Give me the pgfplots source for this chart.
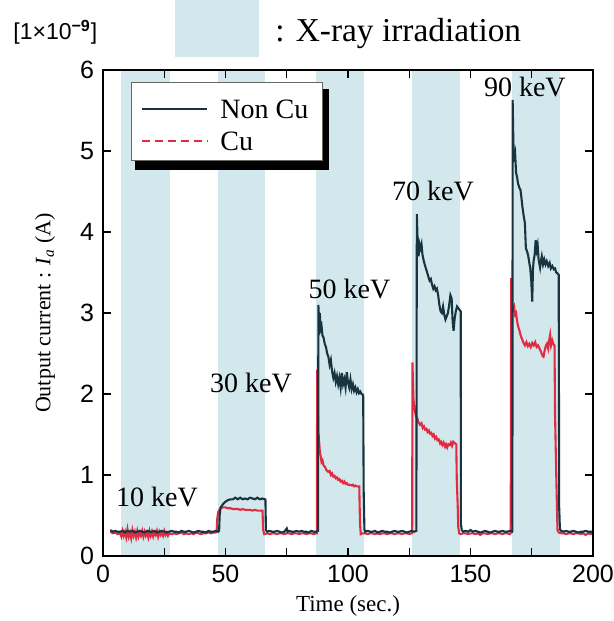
\documentclass[border=0pt]{standalone}
\usepackage{fontspec}
\setmainfont{Liberation Serif}
\newfontfamily\sansfont{Liberation Sans}
\usepackage{pgfplots}
\pgfplotsset{compat=1.18}

\definecolor{bandblue}{RGB}{211,232,236}
\definecolor{noncu}{RGB}{24,52,64}
\definecolor{cured}{RGB}{224,44,66}

\begin{document}
\begin{tikzpicture}
\useasboundingbox (-51.5pt,-32.5pt) rectangle (255.5pt,278pt);

\begin{axis}[
    at={(0,0)}, anchor=south west,
    scale only axis, width=245pt, height=243pt,
    xmin=0, xmax=200, ymin=0, ymax=6,
    xtick={0,50,...,200}, minor xtick={25,75,125,175},
    ytick={0,1,...,6},
    tick align=inside,
    major tick length=4pt, minor tick length=4pt,
    tick style={black, line width=0.6pt},
    axis line style={black, line width=0.7pt},
    axis on top,
    tick label style={font=\sansfont\fontsize{12.5}{12.5}\selectfont},
    /pgf/number format/assume math mode=true,
    xticklabel style={yshift=-1pt},
    yticklabel style={xshift=-1pt},
    xlabel={Time (sec.)},
    ylabel={Output current : \textit{I\textsubscript{a}} (A)},
    xlabel style={font=\fontsize{11.5}{12}\selectfont, at={(axis description cs:0.5,-0.103)}, anchor=center},
    ylabel style={font=\fontsize{11}{12}\selectfont, at={(axis description cs:-0.118,0.5)}, anchor=center},
]

% irradiation periods
\fill[bandblue] (axis cs:7.3,0) rectangle (axis cs:27.2,6);
\fill[bandblue] (axis cs:46.8,0) rectangle (axis cs:66.3,6);
\fill[bandblue] (axis cs:87,0) rectangle (axis cs:106.5,6);
\fill[bandblue] (axis cs:126.2,0) rectangle (axis cs:145.8,6);
\fill[bandblue] (axis cs:167,0) rectangle (axis cs:186.5,6);

% Cu
\addplot[cured, line width=1.05pt] coordinates {
(3,0.30)(4,0.28)(5,0.29)(6,0.27)(7,0.28)(7.5,0.24)(8,0.31)(8.5,0.25)(9,0.30)(9.5,0.23)
(10,0.33)(10.5,0.24)(11,0.29)(11.5,0.22)(12,0.32)(12.5,0.25)(13,0.30)(13.5,0.23)(14,0.31)(14.5,0.24)
(15,0.29)(15.5,0.25)(16,0.31)(16.5,0.24)(17,0.30)(17.5,0.25)(18,0.29)(18.5,0.23)(19,0.31)(19.5,0.25)
(20,0.30)(20.5,0.24)(21,0.29)(21.5,0.26)(22,0.31)(22.5,0.24)(23,0.30)(23.5,0.26)(24,0.29)(24.5,0.25)
(25,0.31)(25.5,0.26)(26,0.29)(26.5,0.25)(27,0.28)(28,0.27)(29,0.28)(30,0.27)(31,0.28)(32,0.29)
(33,0.27)(34,0.28)(35,0.27)(36,0.28)(37,0.27)(38,0.29)(39,0.28)(40,0.27)(41,0.28)(42,0.28)
(43,0.29)(44,0.28)(45,0.29)(46,0.29)(46.4,0.30)
(46.6,0.45)(47,0.54)(47.5,0.57)(48,0.59)(49,0.60)(50,0.60)(51,0.59)(52,0.59)(53,0.58)(54,0.58)
(55,0.58)(56,0.57)(57,0.58)(58,0.57)(59,0.57)(60,0.57)(61,0.56)(62,0.57)(63,0.56)(64,0.56)
(65.1,0.56)(65.4,0.32)(65.8,0.27)(67,0.28)(68,0.27)(69,0.28)(70,0.28)(71,0.27)(72,0.28)(73,0.28)
(74,0.27)(75,0.28)(76,0.28)(77,0.27)(78,0.28)(79,0.28)(80,0.27)(81,0.28)(82,0.28)(83,0.27)
(84,0.28)(85,0.28)(86,0.27)(87,0.28)(87.3,0.28)
(87.4,2.30)(87.7,1.80)(87.9,1.39)(88.2,1.42)(88.5,1.29)(88.9,1.22)(89.2,1.16)(89.6,1.18)(90,1.12)(90.6,1.10)
(91.2,1.06)(91.9,1.04)(92.5,1.05)(93,1.00)(93.5,1.02)(94,0.98)(94.5,0.99)(95,0.96)(95.5,0.97)(96,0.94)
(96.5,0.95)(97,0.92)(97.5,0.93)(98,0.90)(98.5,0.92)(99,0.89)(99.5,0.90)(100,0.88)(100.8,0.88)(101.5,0.87)
(102,0.88)(102.5,0.86)(103,0.87)(103.5,0.86)(104,0.86)(104.6,0.86)(104.9,0.40)(105.2,0.27)(106,0.28)(107,0.28)
(108,0.27)(109,0.28)(110,0.28)(111,0.27)(112,0.28)(113,0.27)(114,0.28)(115,0.28)(116,0.27)(117,0.28)
(118,0.28)(119,0.27)(120,0.28)(121,0.28)(122,0.27)(123,0.28)(124,0.28)(125,0.27)(126,0.28)(126.2,0.28)
(126.3,2.39)(126.7,1.95)(127,1.84)(127.4,1.78)(127.8,1.72)(128.3,1.70)(128.8,1.65)(129.4,1.62)(130,1.64)(130.5,1.58)
(131,1.60)(131.5,1.56)(132,1.57)(132.5,1.53)(133,1.55)(133.5,1.51)(134,1.52)(134.5,1.48)(135,1.50)(135.5,1.45)
(136,1.47)(136.5,1.43)(137,1.44)(137.6,1.39)(138,1.41)(138.5,1.37)(139,1.40)(139.6,1.35)(140,1.38)(140.5,1.34)
(141,1.38)(141.6,1.37)(142,1.40)(142.5,1.36)(143,1.41)(143.7,1.39)(144.2,1.38)(144.4,0.94)(144.8,0.60)(145,0.36)
(145.4,0.28)(146,0.27)(147,0.28)(148,0.28)(149,0.27)(150,0.28)(151,0.28)(152,0.27)(153,0.28)(154,0.26)
(155,0.28)(156,0.28)(157,0.27)(158,0.28)(159,0.28)(160,0.27)(161,0.28)(162,0.28)(163,0.27)(164,0.28)
(165,0.28)(166,0.27)(166.4,0.28)
(166.5,1.55)(166.6,3.43)(166.9,3.10)(167.3,3.04)(167.8,3.08)(168.2,2.98)(168.6,3.00)(169,2.90)(169.5,2.83)
(170,2.78)(170.5,2.72)(170.9,2.69)(171.5,2.64)(172.2,2.60)(172.8,2.64)(173.4,2.59)(174,2.62)(174.6,2.58)(175.2,2.63)
(175.8,2.60)(176.4,2.64)(177,2.58)(177.6,2.60)(178.2,2.56)(178.8,2.52)(179.4,2.47)(179.8,2.46)(180.3,2.54)(180.8,2.60)
(181.2,2.62)(181.7,2.56)(182.2,2.68)(182.5,2.73)(182.9,2.60)(183.4,2.66)(183.8,2.62)(184.3,2.60)(184.5,1.76)(185,1.00)
(185.5,0.32)(186,0.29)(187,0.28)(188,0.28)(189,0.27)(190,0.28)(191,0.28)(192,0.27)(193,0.28)(194,0.28)
(195,0.27)(196,0.28)(197,0.26)(198,0.28)(199,0.27)(200,0.28)
};

% Non Cu
\addplot[noncu, line width=1.05pt] coordinates {
(3,0.32)(4,0.30)(5,0.31)(6,0.30)(7,0.30)(8,0.31)(9,0.29)(10,0.31)(11,0.30)(12,0.31)
(13,0.29)(14,0.30)(15,0.31)(16,0.30)(17,0.29)(18,0.31)(19,0.30)(20,0.30)(21,0.31)(22,0.29)
(23,0.30)(24,0.31)(25,0.30)(26,0.29)(27,0.30)(28,0.31)(29,0.30)(30,0.30)(31,0.29)(32,0.31)
(33,0.30)(34,0.30)(35,0.31)(36,0.30)(37,0.29)(38,0.30)(39,0.31)(40,0.30)(41,0.30)(42,0.29)
(43,0.31)(44,0.30)(45,0.30)(46,0.31)(47,0.30)(47.4,0.31)
(47.6,0.50)(48,0.60)(48.5,0.62)(49,0.64)(50,0.67)(51,0.69)(52,0.70)(53,0.70)(54,0.72)(55,0.70)
(56,0.72)(57,0.70)(58,0.71)(59,0.70)(60,0.72)(61,0.71)(62,0.70)(63,0.72)(64,0.70)(65,0.71)
(66,0.70)(66.3,0.70)(66.5,0.32)(67,0.30)(68,0.31)(69,0.30)(70,0.30)(71,0.31)(72,0.30)(73,0.29)
(74,0.30)(75,0.34)(75.3,0.30)(76,0.31)(77,0.30)(78,0.30)(79,0.31)(80,0.30)(81,0.31)(82,0.30)
(83,0.30)(84,0.29)(85,0.31)(86,0.30)(87,0.30)(87.8,0.31)
(87.9,3.10)(88.2,2.90)(88.5,3.00)(88.8,2.80)(89.2,2.84)(89.6,2.72)(90,2.70)(90.5,2.62)(91,2.58)(91.5,2.50)
(92,2.46)(92.5,2.36)(93,2.42)(93.5,2.28)(94,2.20)(94.5,2.26)(95,2.15)(95.5,2.22)(96,2.12)(96.5,2.20)
(97,2.08)(97.5,2.26)(98,2.12)(98.5,2.18)(99,2.08)(99.5,2.27)(100,2.14)(100.5,2.08)(101,2.18)(101.5,2.06)
(102,2.12)(102.5,2.04)(103,2.08)(103.5,2.02)(104,2.06)(104.5,2.01)(105,2.03)(105.5,2.00)(106.2,1.99)(106.4,0.80)
(106.7,0.33)(107,0.30)(108,0.31)(109,0.30)(110,0.30)(111,0.31)(112,0.29)(113,0.30)(114,0.31)(115,0.30)
(116,0.30)(117,0.29)(118,0.30)(119,0.31)(120,0.30)(121,0.30)(122,0.31)(123,0.30)(124,0.29)(125,0.30)
(126,0.31)(127,0.30)(127.9,0.31)
(128.1,4.22)(128.4,3.90)(128.8,3.70)(129.2,3.85)(129.6,3.80)(130,3.85)(130.4,3.72)(130.8,3.66)(131.3,3.60)(131.8,3.55)
(132.3,3.50)(132.8,3.45)(133.3,3.40)(133.8,3.42)(134.3,3.35)(134.8,3.30)(135.3,3.33)(135.8,3.28)(136.3,3.30)(136.8,3.22)
(137.3,3.10)(137.8,3.02)(138.3,3.00)(138.8,3.08)(139.3,2.98)(139.8,2.92)(140.3,2.96)(140.8,3.00)(141.3,3.10)(141.8,3.22)
(142.3,3.18)(142.7,2.90)(143.1,2.78)(143.5,2.92)(144,3.02)(144.5,3.08)(145,3.06)(145.5,3.04)(146,3.02)(146.1,0.40)
(146.4,0.32)(147,0.30)(148,0.31)(149,0.30)(150,0.32)(151,0.30)(152,0.31)(153,0.30)(154,0.29)(155,0.30)
(156,0.31)(157,0.30)(158,0.29)(159,0.30)(160,0.31)(161,0.30)(162,0.30)(163,0.31)(164,0.30)(165,0.30)
(166,0.31)(167,0.30)(167.1,0.31)
(167.2,5.63)(167.5,5.10)(167.8,4.93)(168.2,4.98)(168.6,4.73)(169,4.68)(169.4,4.60)(169.9,4.55)(170.4,4.52)(170.8,4.42)
(171.2,4.31)(171.7,4.20)(172.2,4.11)(172.6,3.80)(173.1,3.76)(173.6,3.70)(174,3.62)(174.4,3.55)(174.8,3.40)(175.2,3.14)
(175.5,3.55)(175.8,3.65)(176.2,3.72)(176.6,3.90)(177,3.78)(177.4,3.84)(177.8,3.66)(178.4,3.56)(178.8,3.65)(179.1,3.70)
(179.6,3.60)(180.1,3.66)(180.6,3.60)(181.1,3.64)(181.7,3.58)(182.3,3.62)(182.8,3.55)(183.4,3.58)(184,3.54)(184.5,3.55)
(185,3.50)(185.5,3.49)(186,3.47)(186.2,0.60)(186.5,0.33)(187,0.31)(188,0.30)(189,0.31)(190,0.30)(191,0.30)
(192,0.31)(193,0.30)(194,0.29)(195,0.30)(196,0.30)(197,0.31)(198,0.30)(199,0.30)(200,0.30)
};

% energy labels
\node[font=\fontsize{14}{14}\selectfont] at (axis cs:22,0.73) {10 keV};
\node[font=\fontsize{14}{14}\selectfont] at (axis cs:60.4,2.14) {30 keV};
\node[font=\fontsize{14}{14}\selectfont] at (axis cs:100.6,3.30) {50 keV};
\node[font=\fontsize{14}{14}\selectfont] at (axis cs:134.7,4.51) {70 keV};
\node[font=\fontsize{14}{14}\selectfont] at (axis cs:172.2,5.79) {90 keV};
\end{axis}

% legend with drop shadow
\fill[black] (16pt,193pt) rectangle (113pt,233.5pt);
\filldraw[fill=white, draw=black!60, line width=0.5pt] (14pt,197.5pt) rectangle (109.5pt,236.5pt);
\draw[noncu, line width=0.6pt] (19.3pt,223.5pt) -- (52pt,223.5pt);
\draw[cured, line width=0.6pt, dash pattern=on 4pt off 2.5pt] (19.3pt,207.5pt) -- (52pt,207.5pt);
\node[anchor=west, font=\fontsize{14}{14}\selectfont, inner sep=0pt] at (58.5pt,223.5pt) {Non Cu};
\node[anchor=west, font=\fontsize{14}{14}\selectfont, inner sep=0pt] at (58.5pt,207.5pt) {Cu};

% header
\fill[bandblue] (36pt,249.5pt) rectangle (78pt,278pt);
\node[anchor=base west, font=\fontsize{16.7}{16.7}\selectfont, inner sep=0pt] at (86pt,257pt) {: X-ray irradiation};
\node[anchor=base west, font=\sansfont\fontsize{11.5}{11.5}\selectfont, inner sep=0pt] at (-45pt,258pt) {[1×10\textsuperscript{\textbf{−9}}]};
\end{tikzpicture}
\end{document}
